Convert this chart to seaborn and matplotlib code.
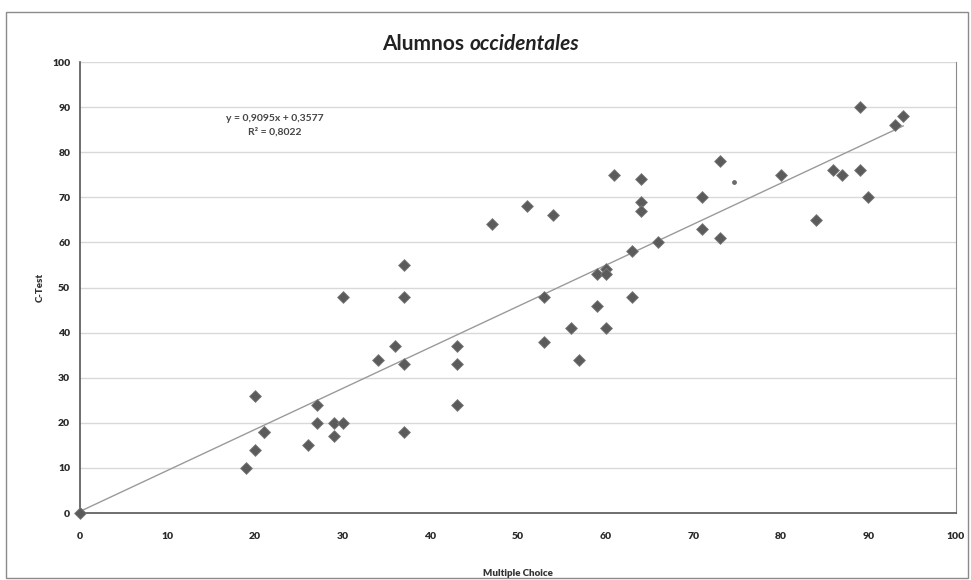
import matplotlib
matplotlib.use("Agg")
import matplotlib.pyplot as plt
from matplotlib.patches import Rectangle
import numpy as np
import pandas as pd
import seaborn as sns

# puntos (Multiple Choice, C-Test)
multiple_choice = [0, 19, 20, 20, 21, 21, 26, 27, 27, 29, 29, 30, 30,
                   34, 36, 37, 37, 37, 37, 43, 43, 43,
                   47, 51, 53, 53, 54, 56, 57, 59, 59, 60, 60, 60, 61, 63, 63,
                   64, 64, 64, 66, 71, 71, 73, 73, 80, 84, 86, 87, 89, 89, 90, 93, 94]
c_test = [0, 10, 26, 14, 18, 18, 15, 24, 20, 20, 17, 20, 48,
          34, 37, 55, 48, 33, 18, 37, 33, 24,
          64, 68, 48, 38, 66, 41, 34, 53, 46, 54, 53, 41, 75, 58, 48,
          74, 69, 67, 60, 70, 63, 78, 61, 75, 65, 76, 75, 76, 90, 70, 86, 88]
slope = 0.9095
intercept = 0.3577
r2 = "0,8022"
x_ticks = list(range(0, 101, 10))
y_ticks = list(range(0, 101, 10))

df = pd.DataFrame({"Multiple Choice": multiple_choice, "C-Test": c_test})

sns.set_style("white")
plt.rcParams["font.family"] = ["Lato", "DejaVu Sans"]

fig = plt.figure(figsize=(9.71, 5.8), dpi=100)
ax = fig.add_axes([0.0824, 0.1155, 0.9022, 0.7776])

# marco exterior del grafico
fig.patches.append(Rectangle((0.006, 0.003), 0.991, 0.976, transform=fig.transFigure,
                             fill=False, edgecolor="#8a8a8a", linewidth=1.0))

for y in y_ticks[1:]:
    ax.axhline(y, color="#d9d9d9", linewidth=1.0, zorder=0)

xs = np.array([0, 94])
ax.plot(xs, slope * xs + intercept, color="#9a9a9a", linewidth=1.0, zorder=1)

sns.scatterplot(data=df, x="Multiple Choice", y="C-Test", ax=ax, marker="D",
                s=36, color="#5b5b5b", edgecolor="#7a7a7a", linewidth=0.6,
                zorder=3, clip_on=False)
ax.scatter([74.7], [73.4], s=6, color="#6a6a6a", zorder=3)

ax.set_xlim(0, 100)
ax.set_ylim(0, 100)
ax.set_xticks(x_ticks)
ax.set_yticks(y_ticks)
ax.tick_params(axis="both", length=0, labelsize=7.5, colors="#2a2a2a")
ax.tick_params(axis="x", pad=14)
ax.tick_params(axis="y", pad=7)
for lab in ax.get_xticklabels() + ax.get_yticklabels():
    lab.set_fontweight("heavy")

for s in ["left", "bottom"]:
    ax.spines[s].set_color("#555555")
    ax.spines[s].set_linewidth(1.2)
ax.spines["right"].set_color("#8a8a8a")
ax.spines["top"].set_visible(False)

ax.set_xlabel("Multiple Choice", fontsize=7, fontweight="heavy", color="#333333", labelpad=20)
ax.set_ylabel("C-Test", fontsize=7, fontweight="heavy", color="#333333", labelpad=5)

ax.text(0.222, 0.86, "y = 0,9095x + 0,3577\nR² = " + r2, transform=ax.transAxes,
        ha="center", va="center", fontsize=7.5, fontweight="bold", color="#444444",
        linespacing=1.5)

t1 = fig.text(0.394, 0.925, "Alumnos ", fontsize=15, fontweight="bold",
              color="#222222", ha="left", va="center")
ax.annotate("occidentales", xy=(1, 0.5), xycoords=t1, va="center", ha="left",
            fontsize=15, fontweight="bold", fontstyle="italic", color="#222222",
            annotation_clip=False)

fig.savefig("out.png", dpi=100)
